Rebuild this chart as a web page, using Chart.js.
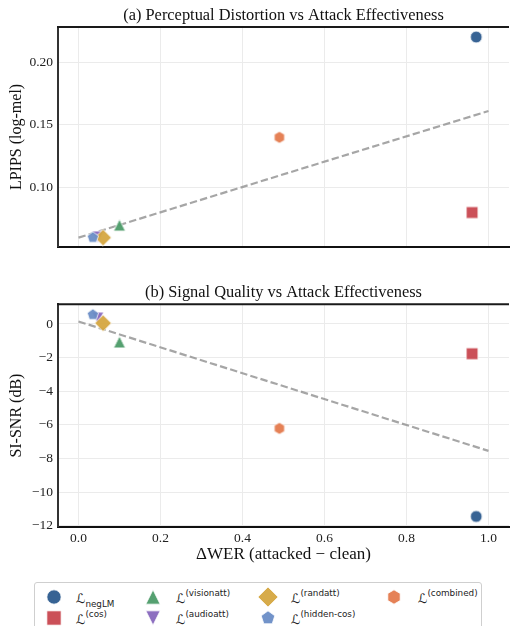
<!DOCTYPE html>
<html>
<head>
<meta charset="utf-8">
<script src="https://cdn.jsdelivr.net/npm/chart.js@4.4.1/dist/chart.umd.min.js"></script>
<style>
  html, body { margin: 0; padding: 0; background: #fff; overflow: hidden; }
  #wrap { position: relative; width: 513px; height: 626px; overflow: hidden; }
  .box { position: absolute; left: 0; }
  #legend { position: absolute; left: 34px; top: 582px; width: 446px; height: 60px;
    border: 1px solid #cfcfcf; border-radius: 3px; background: #fff;
    font-family: "DejaVu Sans"; color: #222; }
  .mk { position: absolute; }
  .lab { position: absolute; font-size: 13px; line-height: 13px; white-space: nowrap; }
  .lab sup, .lab sub { font-size: 8.8px; line-height: 0; }
  .lab sup { position: relative; top: -1px; }
  .lab sub { position: relative; top: 1px; }
</style>
</head>
<body>
<div id="wrap">
  <canvas id="chartA" class="box" style="top:0" width="516" height="260"></canvas>
  <canvas id="chartB" class="box" style="top:280px" width="516" height="300"></canvas>
  <div id="legend"></div>
</div>
<script>
// data
const methods = ['negLM', 'cos', 'visionatt', 'audioatt', 'randatt', 'hidden-cos', 'combined'];
const deltaWER = [0.97, 0.96, 0.10, 0.047, 0.06, 0.035, 0.49];
const lpips = [0.220, 0.080, 0.070, 0.0605, 0.060, 0.060, 0.140];
const siSnr = [-11.45, -1.77, -1.07, 0.35, 0.05, 0.55, -6.21];
const trendX = [0, 1];
const trendLpips = [0.060, 0.161];
const trendSiSnr = [0.15, -7.55];

const xTicks = [0, 0.2, 0.4, 0.6, 0.8, 1.0];
const xTickLabels = ['0.0', '0.2', '0.4', '0.6', '0.8', '1.0'];
const yTicksA = [0.10, 0.15, 0.20];
const yTickLabelsA = ['0.10', '0.15', '0.20'];
const yTicksB = [-12, -10, -8, -6, -4, -2, 0];
const yTickLabelsB = ['\u221212', '\u221210', '\u22128', '\u22126', '\u22124', '\u22122', '0'];

const colors = ['#2c5b8e', '#c8474f', '#4c9b68', '#8767bd', '#d5a640', '#6a8dc6', '#e47a4d'];
const shapes = ['circle', 'square', 'triUp', 'triDown', 'diamond', 'pentagon', 'hexagon'];

// marker sprites (matplotlib-like shapes)
function makeMarker(shape, color, d) {
  const c = document.createElement('canvas');
  const s = Math.ceil(d * 1.8) + 4;
  c.width = s; c.height = s;
  const g = c.getContext('2d');
  const cx = s / 2, cy = s / 2, r = d / 2;
  g.beginPath();
  if (shape === 'circle') {
    g.arc(cx, cy, r, 0, Math.PI * 2);
  } else if (shape === 'square') {
    g.rect(cx - r, cy - r, d, d);
  } else if (shape === 'triUp') {
    g.moveTo(cx, cy - r); g.lineTo(cx + r, cy + r); g.lineTo(cx - r, cy + r);
  } else if (shape === 'triDown') {
    g.moveTo(cx, cy + r); g.lineTo(cx + r, cy - r); g.lineTo(cx - r, cy - r);
  } else if (shape === 'diamond') {
    const h = r * Math.SQRT2;
    g.moveTo(cx, cy - h); g.lineTo(cx + h, cy); g.lineTo(cx, cy + h); g.lineTo(cx - h, cy);
  } else {
    const n = shape === 'pentagon' ? 5 : 6;
    for (let i = 0; i < n; i++) {
      const a = -Math.PI / 2 + i * 2 * Math.PI / n;
      const px = cx + r * Math.cos(a), py = cy + r * Math.sin(a);
      if (i === 0) g.moveTo(px, py); else g.lineTo(px, py);
    }
  }
  g.closePath();
  g.fillStyle = color;
  g.globalAlpha = 0.95;
  g.fill();
  g.globalAlpha = 1;
  g.strokeStyle = '#fff';
  g.lineWidth = 0.8;
  g.stroke();
  return c;
}

const serif = '"Liberation Serif", "Times New Roman", serif';

const panelFrame = {
  id: 'panelFrame',
  afterDraw(chart, args, opts) {
    const { ctx, chartArea: a } = chart;
    ctx.save();
    ctx.strokeStyle = '#1a1a1a';
    ctx.lineWidth = 2;
    ctx.beginPath();
    ctx.moveTo(a.left - 1, a.top);
    ctx.lineTo(a.right, a.top);
    ctx.stroke();
    ctx.fillStyle = '#111';
    ctx.font = '16.4px ' + serif;
    ctx.textAlign = 'center';
    ctx.textBaseline = 'alphabetic';
    ctx.fillText(opts.text, (a.left + a.right) / 2, a.top - 7.5);
    ctx.restore();
  }
};

function buildChart(id, yVals, trendY, yTicks, yLabels, yMin, yMax, opt) {
  const datasets = methods.map((m, i) => ({
    label: m,
    data: [{ x: deltaWER[i], y: yVals[i] }],
    pointStyle: makeMarker(shapes[i], colors[i], 11.8),
    pointRadius: 6,
    pointHoverRadius: 6,
    order: methods.length - i
  }));
  datasets.push({
    label: 'trend',
    type: 'line',
    data: trendX.map((x, i) => ({ x: x, y: trendY[i] })),
    borderColor: 'rgba(150,150,150,0.85)',
    borderWidth: 2.2,
    borderDash: [7.4, 3.2],
    pointRadius: 0,
    fill: false,
    order: 100
  });
  return new Chart(document.getElementById(id), {
    type: 'scatter',
    data: { datasets: datasets },
    options: {
      responsive: false,
      animation: false,
      layout: { padding: { left: 6, right: 1, top: opt.top, bottom: opt.bottom } },
      plugins: {
        legend: { display: false },
        tooltip: { enabled: false },
        panelFrame: { text: opt.title }
      },
      scales: {
        x: {
          type: 'linear', min: -0.05, max: 1.05,
          afterBuildTicks: s => { s.ticks = xTicks.map(v => ({ value: v })); },
          afterFit: s => { s.height = opt.xHeight; },
          grid: { color: '#ebebeb', lineWidth: 1, drawTicks: false },
          border: { color: '#111', width: 2 },
          ticks: {
            display: opt.showX, padding: 3, color: '#222',
            font: { family: serif, size: 13.5 },
            callback: (v, i) => xTickLabels[i]
          },
          title: {
            display: opt.showX, text: '\u0394WER (attacked \u2212 clean)', color: '#111',
            font: { family: serif, size: 17 }, padding: 0
          }
        },
        y: {
          type: 'linear', min: yMin, max: yMax,
          afterBuildTicks: s => { s.ticks = yTicks.map(v => ({ value: v })); },
          afterFit: s => { s.width = 52; },
          grid: { color: '#ebebeb', lineWidth: 1, drawTicks: false },
          border: { color: '#333', width: 2 },
          ticks: {
            padding: 5, color: '#222',
            font: { family: serif, size: 13.5 },
            callback: (v, i) => yLabels[i]
          },
          title: {
            display: true, text: opt.yTitle, color: '#111',
            font: { family: serif, size: 16 }, padding: { top: 1.5, bottom: 0 }
          }
        }
      }
    },
    plugins: [panelFrame]
  });
}

buildChart('chartA', lpips, trendLpips, yTicksA, yTickLabelsA, 0.0526, 0.228, {
  top: 27, bottom: 12, xHeight: 0, showX: false,
  title: '(a) Perceptual Distortion vs Attack Effectiveness', yTitle: 'LPIPS (log-mel)'
});
buildChart('chartB', siSnr, trendSiSnr, yTicksB, yTickLabelsB, -12.07, 1.17, {
  top: 24.3, bottom: 15, xHeight: 38.1, showX: true,
  title: '(b) Signal Quality vs Attack Effectiveness', yTitle: 'SI-SNR (dB)'
});

// legend
const legend = document.getElementById('legend');
const legCols = [[18.7, 41], [118, 141], [233, 256], [359, 383]];
const legRows = [13.7, 34.7];
const legPos = [[0, 0], [0, 1], [1, 0], [1, 1], [2, 0], [2, 1], [3, 0]];
methods.forEach((m, i) => {
  const [ci, ri] = legPos[i];
  const mk = makeMarker(shapes[i], colors[i], 14.3);
  const img = document.createElement('img');
  img.src = mk.toDataURL();
  img.className = 'mk';
  img.style.left = (legCols[ci][0] - mk.width / 2) + 'px';
  img.style.top = (legRows[ri] - mk.height / 2) + 'px';
  legend.appendChild(img);
  const lab = document.createElement('div');
  lab.className = 'lab';
  lab.style.left = legCols[ci][1] + 'px';
  lab.style.top = (legRows[ri] - 5) + 'px';
  lab.innerHTML = i === 0 ? '\u2112<sub>' + m + '</sub>' : '\u2112<sup>(' + m + ')</sup>';
  legend.appendChild(lab);
});
</script>
</body>
</html>
